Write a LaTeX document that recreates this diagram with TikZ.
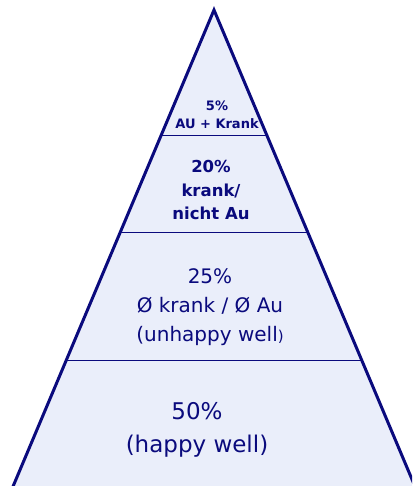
\documentclass[tikz,border=0pt]{standalone}
\usepackage{fontspec}
\setmainfont{DejaVu Sans}
\usepackage{xcolor}
\usetikzlibrary{calc}
\definecolor{pyrnavy}{RGB}{10,10,125}
\definecolor{pyrfill}{RGB}{234,238,250}

\begin{document}
\begin{tikzpicture}[x=1pt,y=-1pt,
    level/.style={align=center, text=pyrnavy, inner sep=0pt},
    divider/.style={pyrnavy, line width=1pt}]
    \useasboundingbox (0,0) rectangle (412,486);
    \clip (0,0) rectangle (412,486);
    % pyramid outline
    \coordinate (apex) at (214,10);
    \coordinate (baseL) at (7.3,500);
    \coordinate (baseR) at (420.7,500);
    \filldraw[fill=pyrfill, draw=pyrnavy, line width=3pt, line join=miter]
        (baseL) -- (apex) -- (baseR) -- cycle;
    % horizontal dividers
    \foreach \t [count=\i] in {0.2571,0.4551,0.7163} {
        \coordinate (divL\i) at ($(apex)!\t!(baseL)$);
        \coordinate (divR\i) at ($(apex)!\t!(baseR)$);
        \draw[divider] (divL\i) -- (divR\i);
    }
    % labels
    \node[level, font=\bfseries\fontsize{13}{18}\selectfont] (top) at (217,115)
        {5\%\\AU + Krank};
    \node[level, font=\bfseries\fontsize{16.5}{23.5}\selectfont] (upper) at (211,190)
        {20\%\\krank/\\nicht Au};
    \node[level, font=\fontsize{20}{29}\selectfont] (middle) at (210,307)
        {25\%\\Ø krank / Ø Au\\(unhappy well{\fontsize{15}{29}\selectfont)}};
    \node[level, font=\fontsize{23}{33}\selectfont] (bottom) at (197,430)
        {50\%\\(happy well)};
\end{tikzpicture}
\end{document}
